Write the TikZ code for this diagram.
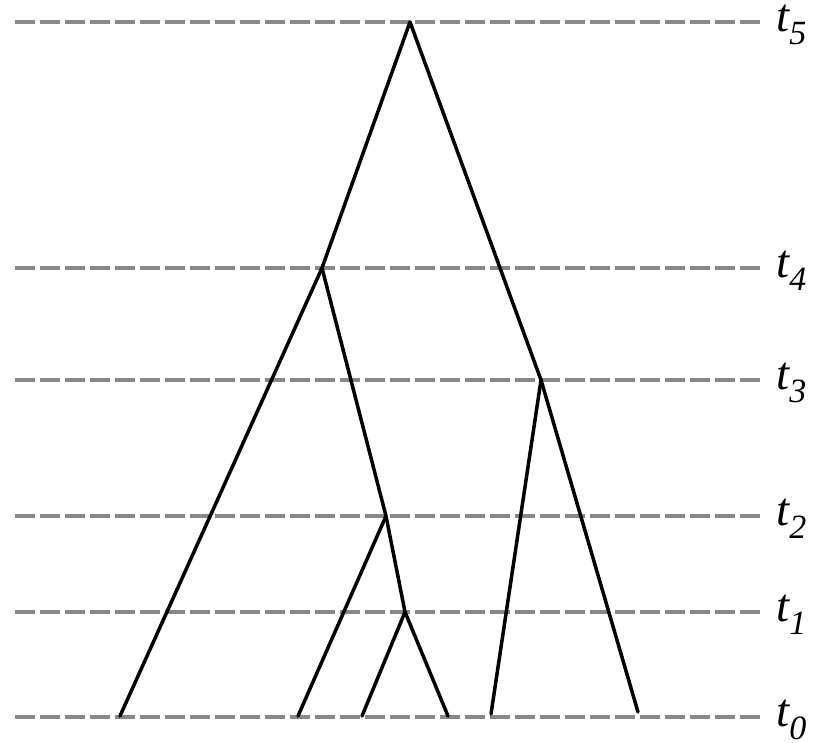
\documentclass[tikz,border=0pt]{standalone}
\usepackage{fontspec}
\setmainfont{Liberation Serif}
\begin{document}
\begin{tikzpicture}[x=1pt,y=-1pt,
  level/.style={line width=3.3pt,dash pattern=on 20pt off 5pt},
  branch/.style={draw=black,line width=3.5pt,line cap=round,line join=round},
  lab/.style={anchor=west,inner sep=0pt,font=\fontsize{47}{50}\selectfont\itshape}]
\useasboundingbox (0,0) rectangle (816,743);
\definecolor{lvl}{RGB}{136,136,136}
\foreach \n/\y in {0/717,1/612,2/516,3/380,4/268,5/22}{
  \coordinate (L\n) at (15,\y);
  \coordinate (R\n) at (764,\y);
  \draw[level,draw=lvl] (L\n) -- (R\n);
  \node[lab] (t\n) at (776,\y+3) {t\raisebox{-0.27em}{\fontsize{34}{36}\selectfont\itshape \n}};
}
\coordinate (root) at (410,22);
\coordinate (a) at (322,268);
\coordinate (b) at (541,380);
\coordinate (c) at (386,516);
\coordinate (d) at (405,612);
\coordinate (l1) at (120,716);
\coordinate (l2) at (298,716);
\coordinate (l3) at (362,716);
\coordinate (l4) at (448,716);
\coordinate (l5) at (491,714);
\coordinate (l6) at (638,712);
\draw[branch] (l1) -- (a) -- (root) -- (b) -- (l6);
\draw[branch] (a) -- (c) -- (d) -- (l4);
\draw[branch] (c) -- (l2);
\draw[branch] (d) -- (l3);
\draw[branch] (b) -- (l5);
\end{tikzpicture}
\end{document}
